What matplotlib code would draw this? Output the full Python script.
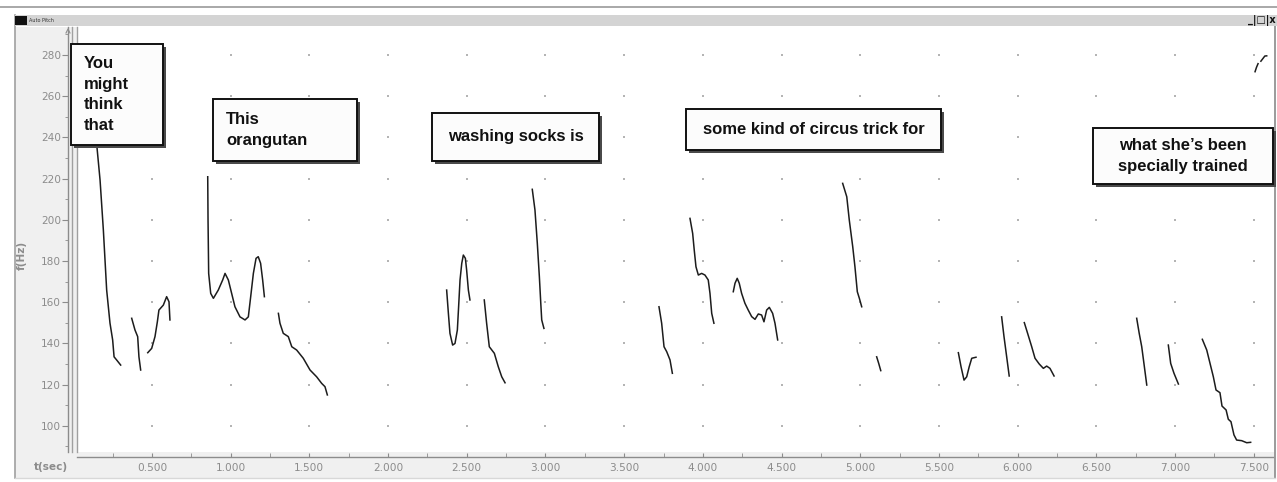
import matplotlib.pyplot as plt
import numpy as np

from matplotlib.lines import Line2D
from matplotlib.patches import Rectangle
from matplotlib.ticker import FixedLocator, FormatStrFormatter

W, H = 1277, 482

# voiced stretches of the pitch track: time (s) and f0 (Hz)
you_t = [0.147, 0.170, 0.191, 0.212, 0.233, 0.250, 0.259, 0.276, 0.301]
you_f = [238.0, 219.3, 195.0, 165.9, 149.9, 141.7, 133.5, 131.9, 129.5]
might_t = [0.371, 0.392, 0.409, 0.417, 0.428]
might_f = [152.2, 146.5, 143.3, 133.5, 127.1]
think_t = [0.473, 0.498, 0.519, 0.534, 0.544, 0.572, 0.593, 0.608, 0.614]
think_f = [135.5, 137.6, 143.3, 150.5, 156.2, 158.6, 162.7, 160.2, 151.4]
this_t = [0.854, 0.856, 0.860, 0.873, 0.890, 0.921, 0.949, 0.964, 0.985,
          1.006, 1.027, 1.059, 1.091, 1.112, 1.127, 1.144, 1.161, 1.175,
          1.190, 1.203, 1.214]
this_f = [220.9, 199.9, 174.0, 164.3, 161.9, 165.9, 170.8, 174.0, 170.8,
          164.3, 157.8, 152.9, 151.4, 152.9, 162.7, 174.0, 181.3, 182.1,
          178.9, 170.8, 162.7]
orangutan_t = [1.303, 1.313, 1.334, 1.366, 1.388, 1.419, 1.461, 1.504,
               1.546, 1.578, 1.599, 1.614]
orangutan_f = [154.6, 149.8, 144.9, 143.3, 138.4, 136.8, 132.8, 127.1,
               123.8, 120.6, 119.0, 115.0]
washing_t = [2.372, 2.383, 2.393, 2.410, 2.425, 2.440, 2.448, 2.457, 2.468,
             2.478, 2.491, 2.499, 2.510, 2.520]
washing_f = [165.9, 154.6, 144.9, 139.2, 140.0, 146.5, 157.8, 170.8, 178.9,
             182.9, 181.3, 175.6, 165.9, 161.1]
socks_t = [2.611, 2.626, 2.643, 2.675, 2.700, 2.722, 2.743]
socks_f = [161.1, 149.8, 138.4, 135.2, 128.7, 123.8, 120.9]
is_t = [2.916, 2.933, 2.948, 2.961, 2.970, 2.976, 2.990]
is_f = [214.8, 204.8, 188.6, 172.4, 159.5, 151.4, 147.3]
some_t = [3.721, 3.738, 3.753, 3.770, 3.791, 3.806]
some_f = [157.8, 149.8, 138.4, 136.0, 132.0, 125.5]
kind_t = [3.918, 3.935, 3.945, 3.956, 3.971, 3.992, 4.013, 4.034, 4.045,
          4.056, 4.070]
kind_f = [200.7, 193.4, 185.3, 177.2, 173.2, 174.0, 173.2, 170.8, 164.3,
          154.6, 149.8]
circus_t = [4.193, 4.204, 4.218, 4.231, 4.246, 4.267, 4.288, 4.310, 4.331,
            4.352, 4.373, 4.388, 4.405, 4.422, 4.443, 4.458, 4.475]
circus_f = [165.1, 169.2, 171.6, 169.2, 164.3, 159.5, 156.2, 153.0, 151.7,
            154.3, 153.8, 150.5, 156.2, 157.5, 154.6, 149.8, 141.7]
trick_t = [4.888, 4.914, 4.930, 4.952, 4.966, 4.981, 4.994, 5.009]
trick_f = [217.7, 211.2, 199.9, 186.9, 177.2, 165.1, 161.9, 157.8]
for_t = [5.104, 5.117, 5.130]
for_f = [133.5, 130.3, 126.8]
what_t = [5.623, 5.640, 5.659, 5.676, 5.692, 5.708, 5.735]
what_f = [135.5, 128.7, 122.2, 123.8, 128.7, 132.8, 133.3]
shes_t = [5.898, 5.913, 5.930, 5.946]
shes_f = [152.9, 143.3, 133.5, 124.2]
been_t = [6.042, 6.063, 6.089, 6.110, 6.137, 6.163, 6.184, 6.205, 6.231]
been_f = [150.1, 144.9, 138.4, 132.8, 130.0, 127.9, 129.0, 127.9, 124.2]
specially_t = [6.756, 6.772, 6.788, 6.802, 6.820]
specially_f = [152.2, 144.9, 138.4, 130.3, 119.8]
tra_t = [6.957, 6.972, 6.993, 7.021]
tra_f = [139.2, 130.3, 125.5, 120.3]
trained_t = [7.173, 7.201, 7.222, 7.243, 7.260, 7.285, 7.298, 7.324, 7.338,
             7.355, 7.374, 7.391, 7.423, 7.455, 7.480]
trained_f = [142.0, 136.8, 130.3, 123.8, 117.4, 116.1, 109.6, 107.7, 103.2,
             102.0, 95.6, 93.1, 92.8, 91.8, 92.0]
tail_a_t = [7.508, 7.517, 7.527]
tail_a_f = [271.9, 274.0, 275.8]
tail_b_t = [7.545, 7.558, 7.570, 7.582]
tail_b_f = [277.0, 278.3, 279.5, 279.6]

time_ticks = [0.5, 1.0, 1.5, 2.0, 2.5, 3.0, 3.5, 4.0, 4.5, 5.0, 5.5, 6.0,
              6.5, 7.0, 7.5]
time_minor = [0.25, 0.75, 1.25, 1.75, 2.25, 2.75, 3.25, 3.75, 4.25, 4.75,
              5.25, 5.75, 6.25, 6.75, 7.25]
freq_ticks = [100, 120, 140, 160, 180, 200, 220, 240, 260, 280]
freq_minor = [90, 110, 130, 150, 170, 190, 210, 230, 250, 270, 290]

captions = [
  'You\nmight\nthink\nthat',
  'This\norangutan',
  'washing socks is',
  'some kind of circus trick for',
  'what she\u2019s been\nspecially trained',
]

SEGMENTS = [
  (you_t, you_f), (might_t, might_f), (think_t, think_f),
  (this_t, this_f), (orangutan_t, orangutan_f),
  (washing_t, washing_f), (socks_t, socks_f), (is_t, is_f),
  (some_t, some_f), (kind_t, kind_f), (circus_t, circus_f),
  (trick_t, trick_f), (for_t, for_f),
  (what_t, what_f), (shes_t, shes_f), (been_t, been_f),
  (specially_t, specially_f), (tra_t, tra_f), (trained_t, trained_f),
  (tail_a_t, tail_a_f), (tail_b_t, tail_b_f),
]

# box corners in pixels (left, top, right, bottom) and text placement
CAPTION_BOXES = [
  ((71, 44, 163, 145), 'left', 84),
  ((213, 99, 357, 161), 'left', 226),
  ((432, 113, 599, 161), 'center', None),
  ((686, 109, 941, 150), 'center', None),
  ((1093, 128, 1273, 184), 'center', None),
]

AXIS_GREY = '#8c8c8c'
PANEL = '#f0f0f0'


def px(x: float, y: float) -> tuple[float, float]:
  return x / W, 1 - y / H


def add_rect(fig, x0, y0, x1, y1, **kwargs) -> None:
  fig.patches.append(Rectangle(
    px(x0, y1), (x1 - x0) / W, (y1 - y0) / H,
    transform=fig.transFigure, **kwargs
  ))


def add_line(fig, xs, ys, **kwargs) -> None:
  fig.lines.append(Line2D(
    [x / W for x in xs], [1 - y / H for y in ys],
    transform=fig.transFigure, **kwargs
  ))


def draw_window(fig) -> None:
  add_line(fig, [0, W], [7, 7], color='#a8a8a8', lw=1.4, zorder=-1)
  add_rect(fig, 15, 27, 77, 478, facecolor=PANEL, edgecolor='none', zorder=-2)
  add_rect(fig, 15, 452, 1275, 478, facecolor=PANEL, edgecolor='none', zorder=-2)
  add_rect(fig, 15, 15, W, 26, facecolor='#d4d4d4', edgecolor='none', zorder=-1)
  add_line(fig, [15, 15], [15, 478], color='#a0a0a0', lw=1.2, zorder=-1)
  add_line(fig, [1275, 1275], [26, 478], color='#8a8a8a', lw=1.2, zorder=-1)
  add_line(fig, [15, 1275], [478, 478], color='#d8d8d8', lw=1.0, zorder=-1)

  # double rule between the frequency scale and the track
  for x in (72, 77):
    add_line(fig, [x, x], [27, 452], color='#a0a0a0', lw=1.0, zorder=2)

  # small arrow head on top of the frequency scale
  add_line(fig, [66, 68, 70], [33, 29, 33], color=AXIS_GREY, lw=0.8, zorder=2)

  add_rect(fig, 15, 16, 27, 25, facecolor='#111111', edgecolor='none', zorder=1)
  fig.text(*px(29, 20.5), 'Auto Pitch', fontsize=3.5, color='#333333', va='center')
  fig.text(*px(1276, 20.5), '_|\u25a1|x', fontsize=7, weight='bold',
           color='#111111', ha='right', va='center')


def draw_captions(fig) -> None:
  for (text, ((x0, y0, x1, y1), ha, tx)) in zip(captions, CAPTION_BOXES):
    add_rect(fig, x0 + 3, y0 + 3, x1 + 3, y1 + 3,
             facecolor='#4a4a4a', edgecolor='none', zorder=3)
    add_rect(fig, x0, y0, x1, y1,
             facecolor='#fcfcfc', edgecolor='#111111', lw=1.4, zorder=4)
    x = tx if tx is not None else (x0 + x1) / 2
    fig.text(*px(x, (y0 + y1) / 2), text, ha=ha, va='center',
             fontsize=12, weight='bold', family='Liberation Sans',
             color='#111111', linespacing=1.45, zorder=5)


def build_chart() -> None:
  fig = plt.figure(figsize=(W / 100, H / 100), dpi=100)
  fig.patch.set_facecolor('white')

  ax = fig.add_axes([77 / W, 1 - 452 / H, (1273 - 77) / W, (452 - 27) / H])
  ax.set_xlim(0.0235, 7.622)
  ax.set_ylim(87.3, 293.6)

  (gx, gy) = np.meshgrid(time_ticks, freq_ticks)
  ax.scatter(gx.ravel(), gy.ravel(), s=0.6, marker='s', color='#b4b4b4',
             linewidths=0, zorder=1)

  for (ts, fs) in SEGMENTS:
    ax.plot(ts, fs, color='#1c1c1c', lw=1.1, zorder=2)

  for side in ('top', 'right'):
    ax.spines[side].set_visible(False)
  ax.spines['left'].set_position(('outward', 6.5))
  ax.spines['bottom'].set_position(('outward', 3.6))
  for side in ('left', 'bottom'):
    ax.spines[side].set_color(AXIS_GREY)
    ax.spines[side].set_linewidth(1.0)

  ax.xaxis.set_major_locator(FixedLocator(time_ticks))
  ax.xaxis.set_minor_locator(FixedLocator(time_minor))
  ax.xaxis.set_major_formatter(FormatStrFormatter('%.3f'))
  ax.yaxis.set_major_locator(FixedLocator(freq_ticks))
  ax.yaxis.set_minor_locator(FixedLocator(freq_minor))

  ax.tick_params(axis='x', which='both', direction='in', length=3,
                 color=AXIS_GREY, labelcolor=AXIS_GREY, labelsize=7.6, pad=4)
  ax.tick_params(axis='y', which='major', direction='out', length=4,
                 color=AXIS_GREY, labelcolor=AXIS_GREY, labelsize=7.6, pad=1)
  ax.tick_params(axis='y', which='minor', direction='out', length=2.5,
                 color=AXIS_GREY)

  fig.text(*px(22, 255), 'f(Hz)', rotation=90, ha='center', va='center',
           fontsize=7.6, weight='bold', color=AXIS_GREY)
  fig.text(*px(51, 467), 't(sec)', ha='center', va='center',
           fontsize=7.6, weight='bold', color=AXIS_GREY)

  draw_window(fig)
  draw_captions(fig)

  fig.savefig('out.png', dpi=100)


build_chart()
